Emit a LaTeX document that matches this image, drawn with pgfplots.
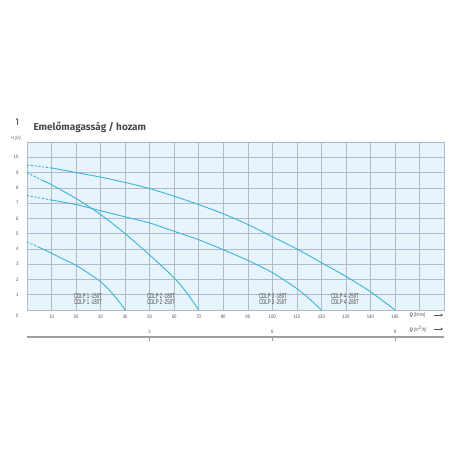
\documentclass[border=0pt]{standalone}
\usepackage{fontspec}
\setmainfont{Fira Sans}
\newfontfamily\condfont[FakeStretch=0.62]{Liberation Sans}
\newfontfamily\tickfont[FakeStretch=0.85]{Liberation Sans}
\usepackage{pgfplots}
\pgfplotsset{compat=1.18}
\usetikzlibrary{arrows.meta}
\definecolor{curve}{HTML}{3AB4DA}
\definecolor{bg}{HTML}{E7F4FB}
\definecolor{gridc}{HTML}{AFBCC6}
\definecolor{txt}{HTML}{555555}
\definecolor{ttl}{HTML}{4A4A4A}
\begin{document}
\begin{tikzpicture}[x=1pt,y=1pt]
\useasboundingbox (0,0) rectangle (456,456);
\begin{axis}[
  at={(27pt,146pt)}, anchor=south west,
  scale only axis, width=417pt, height=168pt,
  xmin=0, xmax=170, ymin=0, ymax=11,
  xtick={0,10,...,170},
  xticklabels={,10,20,30,40,50,60,70,80,90,100,110,120,130,140,150,,},
  ytick={0,1,...,11},
  yticklabels={,1,2,3,4,5,6,7,8,9,10,},
  grid=major,
  grid style={draw=gridc, line width=0.5pt},
  axis line style={draw=gridc, line width=0.5pt},
  major tick length=0pt,
  axis background/.style={fill=bg},
  /pgf/number format/assume math mode=true,
  ticklabel style={font=\tickfont\fontsize{5}{6}\selectfont, text=txt},
  xticklabel style={yshift=-1pt},
  yticklabel style={xshift=-5pt},
  clip=false,
  every axis plot/.append style={curve, line width=0.9pt},
  dsh/.style={dash pattern=on 2.2pt off 1.6pt},
]
\addplot[dsh] coordinates {(0,4.45)(5,4.1)};
\addplot[smooth] coordinates {(5,4.1)(10,3.72)(15,3.32)(20,2.92)(25,2.42)(30,1.85)(33,1.4)(36,0.85)(38,0.45)(40,0)};
\addplot[dsh] coordinates {(0,9)(6,8.5)};
\addplot[smooth] coordinates {(6,8.5)(10,8.2)(20,7.3)(30,6.25)(40,5.0)(50,3.6)(60,2.1)(65,1.15)(70,0)};
\addplot[dsh] coordinates {(0,7.5)(10,7.2)};
\addplot[smooth] coordinates {(10,7.2)(20,6.9)(30,6.5)(40,6.1)(50,5.7)(60,5.15)(70,4.6)(80,3.95)(90,3.25)(100,2.45)(110,1.4)(115,0.75)(120,0)};
\addplot[dsh] coordinates {(0,9.5)(10,9.3)};
\addplot[smooth] coordinates {(10,9.3)(20,9.0)(30,8.7)(40,8.35)(50,7.95)(60,7.45)(70,6.9)(80,6.3)(90,5.6)(100,4.8)(110,4.0)(120,3.1)(130,2.2)(140,1.2)(150,0)};
\end{axis}
% second scale (m3/h)
\begin{axis}[
  at={(27pt,119pt)}, anchor=south west,
  scale only axis, width=417pt, height=10pt,
  xmin=0, xmax=10.2, ymin=0, ymax=1,
  axis x line=bottom, axis y line=none,
  axis line style={draw=gray!75, line width=1.3pt, -},
  xtick={3,6,9},
  major tick length=4pt,
  xtick align=outside,
  tick style={draw=gray!75, line width=0.5pt},
  /pgf/number format/assume math mode=true,
  xticklabel style={font=\tickfont\fontsize{5}{6}\selectfont, text=txt, yshift=15pt},
]
\addplot[draw=none] coordinates {(0,0)(10.2,0)};
\end{axis}
% texts
\node[anchor=base west, text=ttl, font=\fontsize{10}{12}\selectfont\bfseries] at (30,325) {Emelőmagasság / hozam};
\node[text=txt, font=\tickfont\itshape\fontsize{4.5}{5}\selectfont] at (16,318) {H [m]};
\draw[txt, line width=0.4pt, -{Stealth[length=2pt,width=2pt]}] (17,331) -- (17,338);
\node[text=txt, font=\tickfont\fontsize{5}{6}\selectfont] at (17,140) {0};
\node[anchor=west, text=txt, font=\tickfont\itshape\bfseries\fontsize{5}{6}\selectfont] at (406,141) {Q \mdseries[l/min]};
\draw[txt, line width=0.6pt, -{Stealth[length=2.5pt,width=2.5pt]}] (434,141) -- (443,141);
\node[anchor=west, text=txt, font=\tickfont\itshape\bfseries\fontsize{5}{6}\selectfont] at (406,127) {Q \mdseries[m\textsuperscript{3}/h]};
\draw[txt, line width=0.6pt, -{Stealth[length=2.5pt,width=2.5pt]}] (434,127) -- (443,127);
% model labels
\begin{scope}[every node/.style={text=ttl, font=\condfont\fontsize{7}{6.2}\selectfont, align=left, inner sep=0pt}]
\node at (88,157) {CDLP 1 -150T\\CDLP 1 -180T};
\node at (161,157) {CDLP 2 -180T\\CDLP 2 -250T};
\node at (273,157) {CDLP 3 -180T\\CDLP 3 -250T};
\node at (345,157) {CDLP 4 -250T\\CDLP 4 -280T};
\end{scope}
\end{tikzpicture}
\end{document}
